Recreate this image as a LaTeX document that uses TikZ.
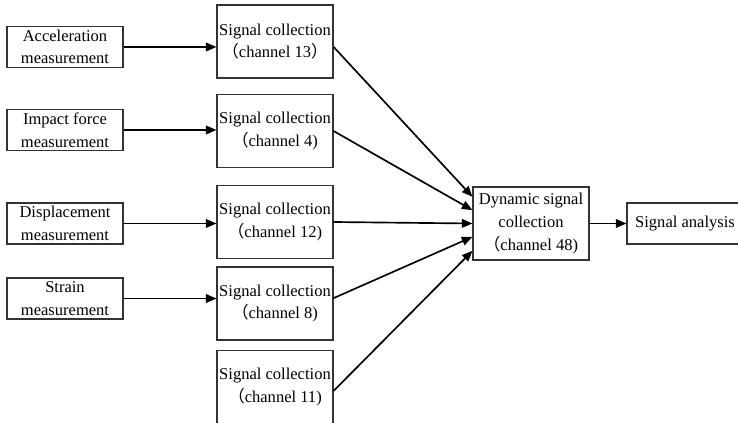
\documentclass[tikz,border=0pt]{standalone}
\usepackage{fontspec}
\setmainfont{Liberation Serif}
\newfontfamily\cjk{Noto Sans CJK SC}
\usetikzlibrary{arrows.meta}
\newcommand{\lpar}{{\cjk （}}
\newcommand{\rpar}{{\cjk ）}}
\begin{document}
\begin{tikzpicture}[x=0.75pt,y=-0.75pt,
  box/.style={draw=black!80,line width=0.8pt,align=center,inner sep=1pt,
    font=\fontsize{12.4}{17}\selectfont,minimum width=87pt},
  srcbox/.style={box,minimum height=30.75pt},
  colbox/.style={box,minimum height=54.75pt},
  flow/.style={line width=1.25pt,-{Triangle[length=8pt,width=6.5pt]}}]
\useasboundingbox (0,0) rectangle (738,423);
\clip (0,0) rectangle (738,423);
% measurement sources
\node[srcbox] (acc) at (65,47) {Acceleration\\measurement};
\node[srcbox] (imp) at (65,130) {Impact force\\measurement};
\node[srcbox] (dis) at (65,223.5) {Displacement\\measurement};
\node[srcbox] (str) at (65,298.5) {Strain\\measurement};
% signal collection units
\node[colbox] (c13) at (275,41.5) {Signal collection\\\lpar channel 13\rpar};
\node[colbox] (c4) at (275,131) {Signal collection\\\lpar channel 4)};
\node[colbox] (c12) at (275,222) {Signal collection\\\lpar channel 12)};
\node[colbox] (c8) at (275,303.5) {Signal collection\\\lpar channel 8)};
\node[colbox] (c11) at (275,387) {Signal collection\\\lpar channel 11)};
% dynamic collection and analysis
\node[box,minimum height=54.75pt] (dyn) at (531,223.5) {Dynamic signal\\collection\\\lpar channel 48)};
\node[srcbox] (ana) at (685,223.5) {Signal analysis};
% connectors
\draw[flow] (acc.east) -- (acc.east -| c13.west);
\draw[flow] (imp.east) -- (imp.east -| c4.west);
\draw[flow] (dis.east) -- (dis.east -| c12.west);
\draw[flow] (str.east) -- (str.east -| c8.west);
\draw[flow] ([yshift=-4pt]c13.east) -- ([yshift=20pt]dyn.west);
\draw[flow] (c4.east) -- ([yshift=10pt]dyn.west);
\draw[flow] (c12.east) -- (dyn.west);
\draw[flow] ([yshift=4pt]c8.east) -- ([yshift=-10pt]dyn.west);
\draw[flow] ([yshift=-3pt]c11.east) -- ([yshift=-20.5pt]dyn.west);
\draw[flow] (dyn.east) -- (dyn.east -| ana.west);
\end{tikzpicture}
\end{document}
